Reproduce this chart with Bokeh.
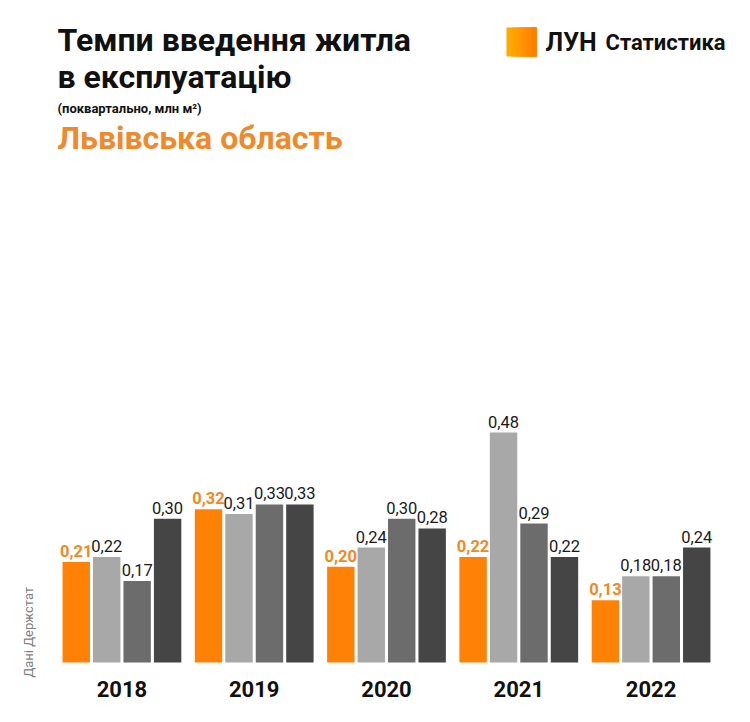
from bokeh.plotting import figure
from bokeh.models import ColumnDataSource, FactorRange, Range1d, Label, BoxAnnotation, Title
from bokeh.core.properties import value
from bokeh.embed import file_html
from bokeh.resources import INLINE

years = ["2018", "2019", "2020", "2021", "2022"]
quarters = ["I", "II", "III", "IV"]
q1 = [0.21, 0.32, 0.20, 0.22, 0.13]
q2 = [0.22, 0.31, 0.24, 0.48, 0.18]
q3 = [0.17, 0.33, 0.30, 0.29, 0.18]
q4 = [0.30, 0.33, 0.28, 0.22, 0.24]
series = [q1, q2, q3, q4]
bar_colors = ["#ff8207", "#a8a8a8", "#6c6c6c", "#454545"]

FONT = "Roboto"
W, H = 734, 706

xs, vals, cols, labels = [], [], [], []
for yi, yr in enumerate(years):
    for qi, q in enumerate(quarters):
        v = series[qi][yi]
        xs.append((yr, q))
        vals.append(v)
        cols.append(bar_colors[qi])
        labels.append(f"{v:.2f}".replace(".", ","))

src = ColumnDataSource(dict(x=xs, val=vals, color=cols, label=labels))
first = [i for i, x in enumerate(xs) if x[1] == quarters[0]]
rest = [i for i, x in enumerate(xs) if x[1] != quarters[0]]
src_q1 = ColumnDataSource(dict(x=[xs[i] for i in first], val=[vals[i] for i in first],
                               label=[labels[i] for i in first]))
src_rest = ColumnDataSource(dict(x=[xs[i] for i in rest], val=[vals[i] for i in rest],
                                 label=[labels[i] for i in rest]))
src_years = ColumnDataSource(dict(x=years, y=[0] * len(years), text=years))

xr = FactorRange(*xs, range_padding=0.74, range_padding_units="absolute",
                 group_padding=0.344, factor_padding=0.0)
yr_ = Range1d(-44 / 479, 662 / 479)

p = figure(width=W, height=H, x_range=xr, y_range=yr_, output_backend="svg",
           toolbar_location=None, x_axis_location=None, y_axis_location=None,
           min_border_left=38, min_border_right=0, min_border_top=0, min_border_bottom=0)
p.outline_line_color = None
p.xgrid.visible = False
p.ygrid.visible = False
p.background_fill_color = "white"
p.border_fill_color = "white"

p.vbar(x="x", top="val", bottom=0, width=0.9, fill_color="color", line_color=None, source=src)

p.text(x="x", y="val", text="label", source=src_q1, text_font=value(FONT),
       text_font_size="16.5px", text_font_style="bold", text_color="#f08a24",
       text_align="center", text_baseline="middle", y_offset=-11)
p.text(x="x", y="val", text="label", source=src_rest, text_font=value(FONT),
       text_font_size="16.5px", text_color="#1a1a1a",
       text_align="center", text_baseline="middle", y_offset=-11)
p.text(x="x", y="y", text="text", source=src_years, text_font=value(FONT),
       text_font_size="22px", text_font_style="bold", text_color="#111111",
       text_align="center", text_baseline="middle", y_offset=26)

def lab(text, x, y, size, style="bold", color="#111111", **kw):
    p.add_layout(Label(x=x, y=y, x_units="canvas", y_units="canvas", text=text,
                       text_font=FONT, text_font_size=size, text_font_style=style,
                       text_color=color, text_baseline="middle", **kw))

lab("Темпи введення житла", 57, 39, "32px")
lab("в експлуатацію", 57, 76, "32px")
lab("(поквартально, млн м²)", 57, 108, "13px")
lab("Львівська область", 57, 137, "32px", color="#ef8a2b")
lab("ЛУН", 545, 41.5, "25px")
lab("Статистика", 605, 41.5, "22px")

p.add_layout(Title(text="Дані Держстат", align="left", offset=29, standoff=5,
                   text_font=FONT, text_font_size="13px", text_font_style="normal",
                   text_color="#7f7f7f"), "left")

logo_cols = ["#ffaa00", "#ffa200", "#ff9a00", "#ff9100", "#ff8800", "#ff7f00"]
for i, c in enumerate(logo_cols):
    p.add_layout(BoxAnnotation(left=506 + 5 * i, right=536, top=27, bottom=56,
                               left_units="canvas", right_units="canvas",
                               top_units="canvas", bottom_units="canvas",
                               fill_color=c, fill_alpha=1.0, line_color=None))

open("out.html", "w").write(file_html(p, INLINE))
